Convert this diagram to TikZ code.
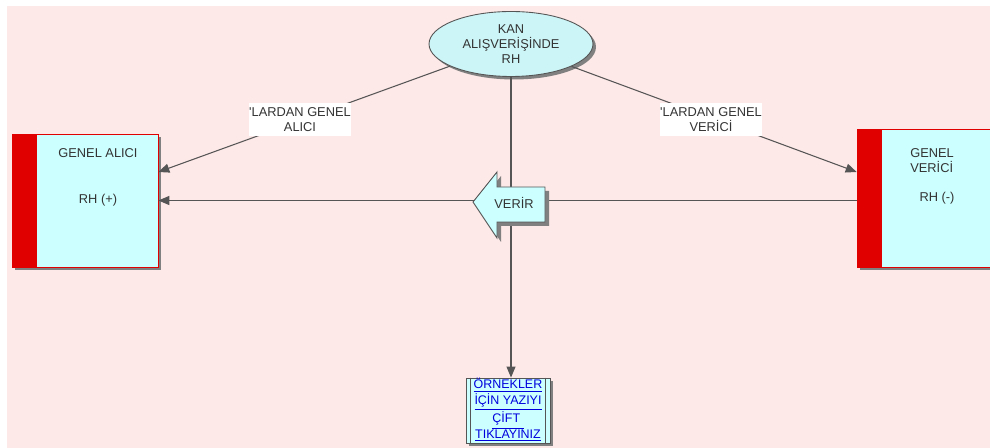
\documentclass[tikz,border=0pt]{standalone}
\usepackage{fontspec}
\setmainfont{Liberation Sans}
\usetikzlibrary{arrows.meta,shapes.geometric,shadows,calc}
\definecolor{bgpink}{HTML}{FDE9E7}
\definecolor{boxcyan}{HTML}{CCFFFF}
\definecolor{ellcyan}{HTML}{CCF5F7}
\definecolor{redbar}{HTML}{E00000}
\definecolor{txtcol}{HTML}{333333}
\definecolor{lnkcol}{HTML}{0000DD}
\definecolor{linecol}{HTML}{555555}
\definecolor{shadcol}{HTML}{808080}
\begin{document}
\begin{tikzpicture}[x=0.02cm,y=-0.02cm,
  font=\fontsize{7.3}{8.5}\selectfont,
  myshadow/.style={drop shadow={shadow xshift=0.06cm,shadow yshift=-0.06cm,fill=shadcol,opacity=1}},
  connector/.style={draw=linecol,line width=0.6pt,-{Triangle[length=0.22cm,width=0.18cm]}},
  bigbox/.style={draw=redbar,line width=0.4pt,fill=boxcyan,myshadow,inner sep=0},
  txtst/.style={text=txtcol,inner sep=0,align=center},
  lblst/.style={fill=white,text=txtcol,inner sep=0,align=center}]
\useasboundingbox (0,0) rectangle (990,448);
\fill[bgpink] (7,6) rectangle (990,448);

% boxes
\node[bigbox,minimum width=2.92cm,minimum height=2.66cm] (la) at (85,200.5) {};
\fill[redbar] (la.north west) rectangle ($(la.south west)+(25,0)$);
\node[bigbox,minimum width=2.86cm,minimum height=2.76cm] (rv) at (928.5,198) {};
\fill[redbar] (rv.north west) rectangle ($(rv.south west)+(25,0)$);

\node[txtst] (laA) at (98,153) {GENEL ALICI};
\node[txtst] (laB) at (98,200) {RH (+)};
\node[txtst,anchor=west,align=left] (rvA) at (910,160.5) {GENEL\\VERİCİ};
\node[txtst] (rvB) at (937,198) {RH (-)};

% ellipse
\node[ellipse,draw=linecol,line width=0.5pt,fill=ellcyan,myshadow,minimum width=3.28cm,minimum height=1.3cm,inner sep=0,txtst] (ell) at (511,44) {KAN\\ALIŞVERİŞİNDE\\RH};

% examples box
\node[draw=linecol,line width=0.5pt,fill=boxcyan,myshadow,minimum width=1.68cm,minimum height=1.3cm,inner sep=0] (orn) at (508,410.5) {};
\draw[linecol,line width=0.4pt] ([xshift=0.1cm]orn.north west) -- ([xshift=0.1cm]orn.south west);
\draw[linecol,line width=0.4pt] ([xshift=-0.1cm]orn.north east) -- ([xshift=-0.1cm]orn.south east);
\node[text=lnkcol,inner sep=0,align=center,font=\fontsize{7.1}{8.7}\selectfont] (ornT) at (508,410)
  {\underline{ÖRNEKLER}\\\underline{İÇİN YAZIYI}\\\underline{ÇİFT\ }\\\underline{TIKLAYINIZ}};

% connectors
\draw[connector] (ell) -- ([yshift=0.57cm]la.east);
\draw[connector] (ell) -- ([yshift=0.52cm]rv.west);
\draw[connector] (ell.south) -- (ell.south |- orn.north);
\draw[connector] (rv.west |- la.east) -- (la.east);

% labels
\node[lblst,minimum width=1.98cm,minimum height=0.66cm] (lblA) at (300,119.5) {\textquotesingle LARDAN GENEL\\ALICI};
\node[lblst,minimum width=2.04cm,minimum height=0.66cm] (lblB) at (711,119.5) {\textquotesingle LARDAN GENEL\\VERİCİ};

% VERIR arrow
\fill[shadcol] (477,206) -- (501,176) -- (501,191) -- (549,191) -- (549,226) -- (501,226) -- (501,242) -- cycle;
\filldraw[draw=linecol,line width=0.5pt,fill=boxcyan] (473,202) -- (497,172) -- (497,187) -- (545,187) -- (545,222) -- (497,222) -- (497,238) -- cycle;
\node[txtst] (verir) at (514,203) {VERİR};
\end{tikzpicture}
\end{document}
